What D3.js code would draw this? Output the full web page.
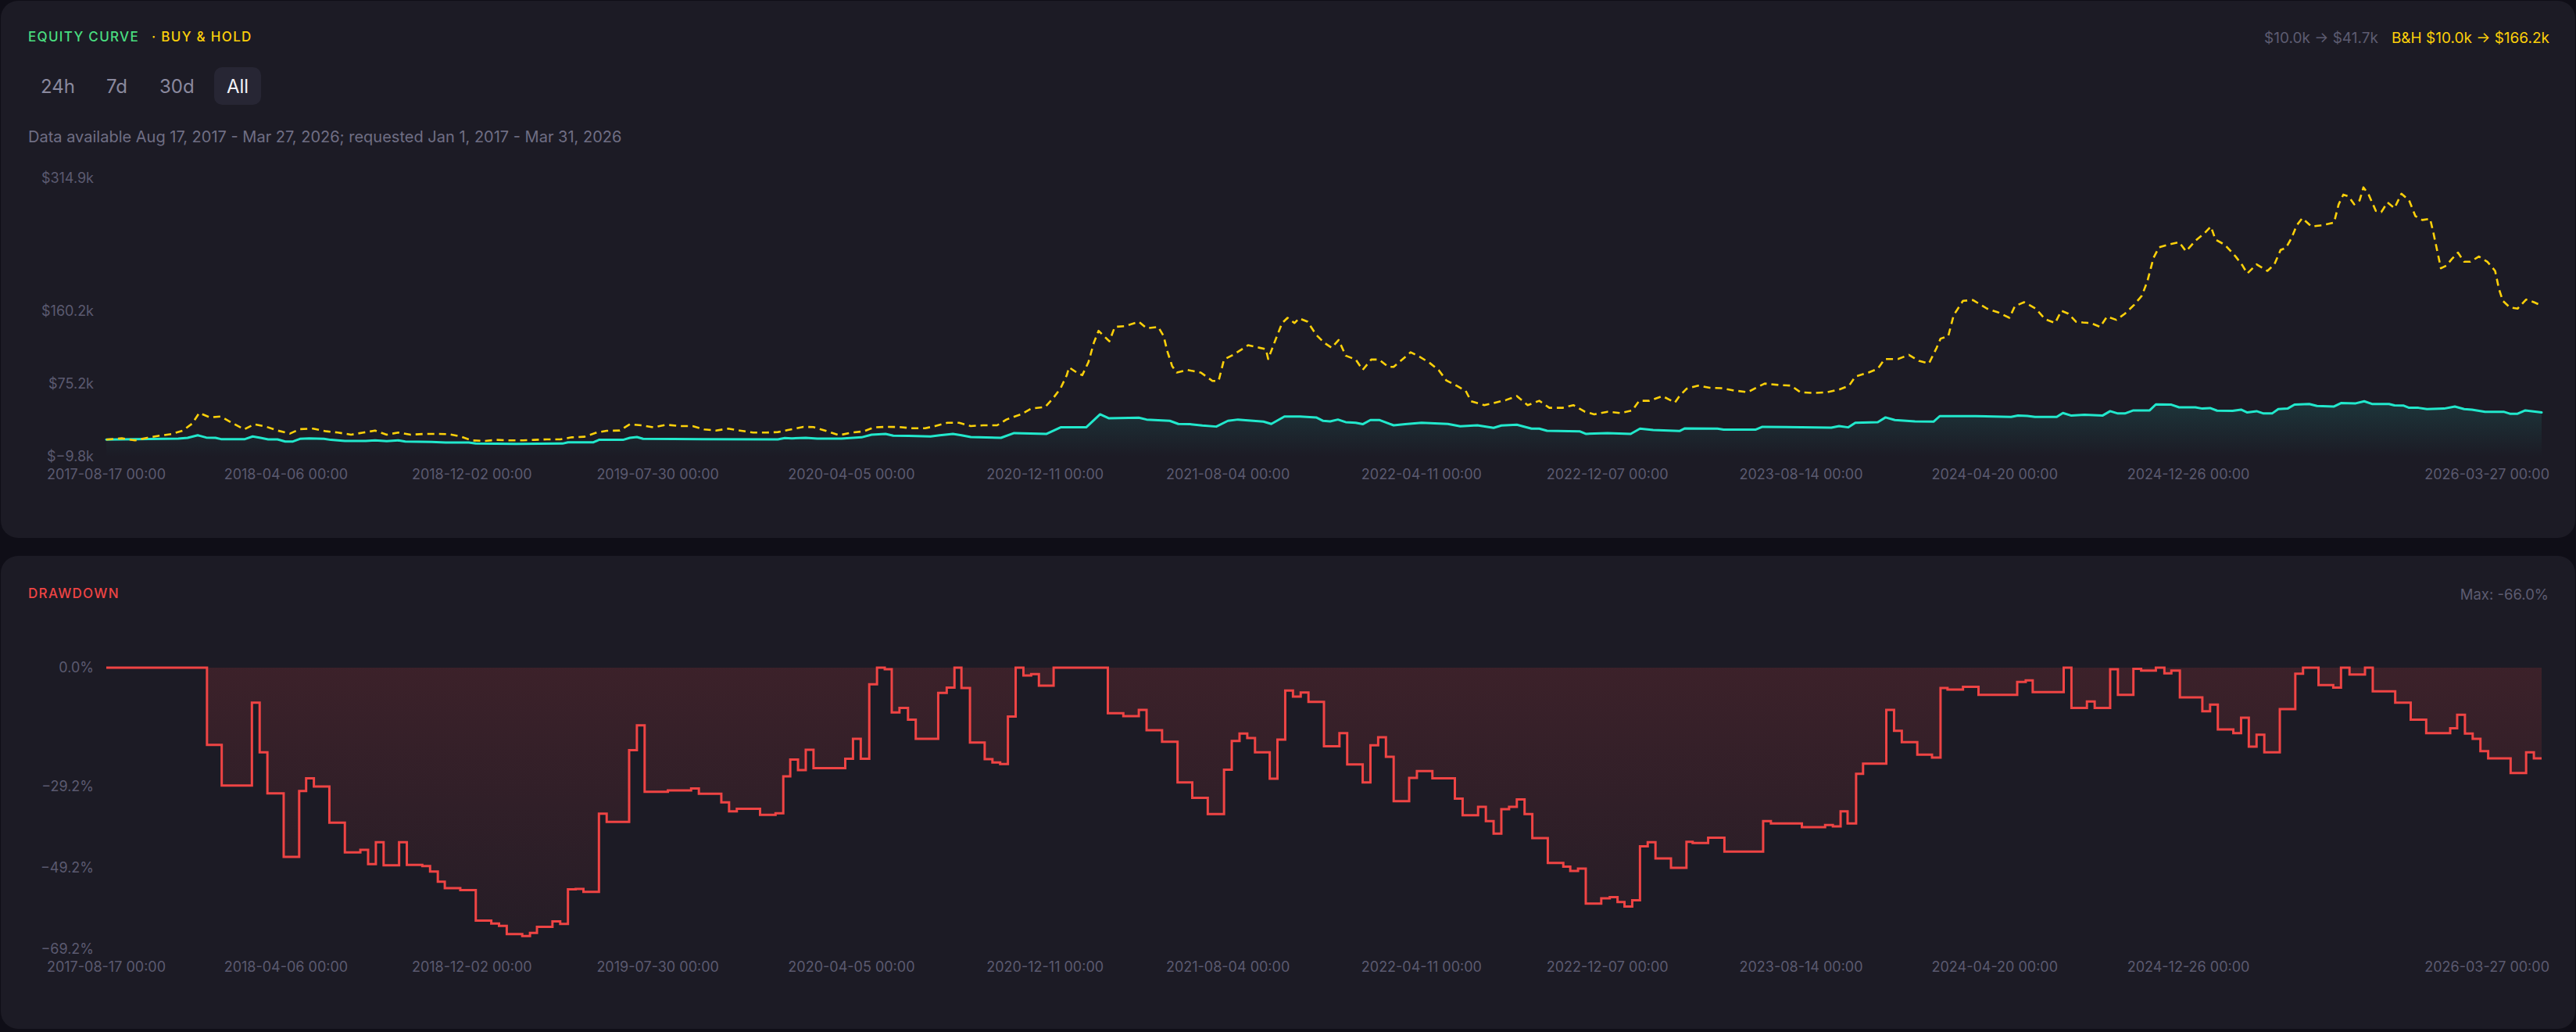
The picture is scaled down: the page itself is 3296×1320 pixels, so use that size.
<!DOCTYPE html>
<html><head><meta charset="utf-8">
<script src="https://cdn.jsdelivr.net/npm/d3@7"></script>
<style>
html,body{margin:0;padding:0;background:#0f0e17;}
svg{display:block;font-family:Inter,"Noto Sans",sans-serif;}
</style></head><body>
<svg id="chart" width="3296" height="1320"></svg>
<script>
// ---------------- DATA ----------------
const startDate = "2017-08-17";
const endDate = "2026-03-27";
const xTickLabels = ["2017-08-17 00:00","2018-04-06 00:00","2018-12-02 00:00","2019-07-30 00:00","2020-04-05 00:00","2020-12-11 00:00","2021-08-04 00:00","2022-04-11 00:00","2022-12-07 00:00","2023-08-14 00:00","2024-04-20 00:00","2024-12-26 00:00","2026-03-27 00:00"];
const equityTicks = [-9.8, 75.2, 160.2, 314.9];      // $k
const drawdownTicks = [0, -29.2, -49.2, -69.2];       // %
const ranges = ["24h","7d","30d","All"];
const activeRange = "All";
const availability = "Data available Aug 17, 2017 - Mar 27, 2026; requested Jan 1, 2017 - Mar 31, 2026";
const strategySummary = "$10.0k \u2192 $41.7k";
const holdSummary = "B&H $10.0k \u2192 $166.2k";
const maxDrawdownLabel = "Max: -66.0%";

// strategy equity ($k), days since start date
const eqDays = [0,93,105,118,129,141,148,179,189,199, 209,221,231,241,250,262,281,290,308,335,
  347,362,377,386,420,438,468,477,529,589, 596,629,636,667,676,685,693,770,867,876,
  885,903,918,949,975,988,1006,1016,1036,1064, 1076,1093,1104,1116,1155,1172,1214,1232,1265,1283,
  1294,1333,1343,1373,1384,1399,1415,1433,1448,1461, 1494,1504,1521,1541,1562,1571,1580,1590,1600,1613,
  1622,1632,1644,1662,1677,1698,1732,1748,1770,1791, 1801,1821,1840,1850,1860,1902,1910,1938,1968,1980,
  1997,2031,2038,2080,2088,2129,2138,2227,2237,2249, 2258,2287,2297,2309,2335,2359,2367,2413,2459,2468,
  2480,2490,2518,2526,2537,2554,2577,2587,2597,2606, 2617,2638,2646,2666,2676,2697,2706,2716,2725,2745,
  2756,2764,2776,2785,2796,2804,2816,2825,2844,2854, 2876,2885,2904,2915,2925,2947,2954,2966,2973,2985,
  2996,3018,3032,3044,3054,3071,3095,3103,3113,3123,3144];
const eqValues = [10.0,11.2,12.1,15.1,12.4,12.1,10.6,10.6,13.7,12.1, 10.3,10.3,7.8,7.8,10.9,11.5,10.9,9.7,8.5,8.5,
  9.1,8.2,9.1,7.8,7.3,6.6,6.6,5.4,5.1,5.4, 6.9,6.9,9.7,9.7,12.1,13.0,10.9,10.6,10.3,11.8,
  11.5,12.1,11.2,11.2,12.7,15.8,16.7,14.6,14.3,13.7, 15.1,16.7,15.1,13.0,12.1,17.6,16.7,24.3,24.3,39.5,
  35.0,35.6,33.4,31.9,28.3,28.0,26.4,25.2,31.9,33.4, 31.0,28.3,37.0,37.0,35.9,31.9,31.3,33.4,30.4,29.7,
  28.0,32.8,32.8,26.7,28.0,29.7,28.3,25.5,26.7,23.7, 26.4,27.4,22.8,22.8,20.3,19.7,16.7,17.6,16.7,22.8,
  21.3,20.0,23.1,22.8,21.6,21.6,24.9,24.0,25.8,24.3, 29.7,30.4,35.9,32.8,31.3,31.0,37.4,37.4,36.5,38.0,
  37.7,36.5,36.5,41.1,38.0,38.9,38.0,43.2,40.5,40.5, 44.1,44.1,51.1,50.8,47.7,47.7,46.2,46.8,43.8,43.5,
  45.0,41.7,43.2,40.5,40.5,45.6,46.2,50.8,51.6,49.3, 48.6,52.6,52.3,54.7,51.6,51.6,49.9,49.6,47.1,47.1,
  45.6,46.2,48.6,45.6,45.0,42.5,42.5,40.2,40.2,44.1,41.7];

// buy & hold ($k)
const bhDays = [0,20,37,53,69,84,99,111,120,134, 148,162,178,191,207,221,237,250,267,284,
  299,316,332,347,362,377,393,411,426,442, 457,472,489,504,521,538,553,569,586,601,
  617,633,646,663,676,691,706,723,740,757, 772,787,803,818,835,852,867,880,900,913,
  931,946,962,978,991,1007,1024,1039,1057,1070, 1086,1101,1116,1132,1150,1162,1181,1194,1212,1222,
  1232,1240,1243,1254,1260,1268,1275,1281,1288,1295, 1302,1315,1333,1343,1358,1365,1370,1376,1382,1396,
  1413,1428,1436,1443,1456,1474,1489,1497,1500,1510, 1518,1525,1534,1540,1551,1562,1572,1582,1591,1600,
  1613,1622,1633,1643,1655,1662,1675,1684,1696,1708, 1720,1730,1743,1755,1762,1779,1791,1807,1821,1835,
  1850,1863,1880,1894,1909,1921,1938,1955,1970,1979, 1992,2009,2025,2031,2040,2055,2070,2085,2100,2119,
  2131,2141,2160,2175,2187,2205,2222,2237,2250,2258, 2275,2287,2296,2313,2327,2340,2353,2363,2368,2378,
  2385,2397,2410,2428,2443,2457,2464,2476,2491,2503, 2516,2524,2533,2543,2552,2562,2574,2583,2595,2606,
  2618,2628,2635,2643,2650,2664,2676,2685,2697,2709, 2717,2723,2735,2749,2758,2764,2776,2790,2799,2807,
  2814,2821,2828,2835,2847,2862,2876,2882,2888,2895, 2902,2909,2914,2921,2930,2937,2945,2954,2963,2973,
  2981,2990,3000,3004,3009,3014,3021,3028,3036,3044, 3052,3063,3074,3084,3089,3094,3103,3113,3124,3134,3144];
const bhValues = [10.0,11.5,9.1,12.1,14.6,16.4,20.6,28.8,41.1,35.9, 37.0,29.7,21.9,27.9,24.9,20.6,17.0,22.2,22.8,19.7,
  18.2,15.8,18.2,20.6,15.8,18.2,15.8,16.7,16.7,16.4, 13.7,9.1,8.5,9.7,9.1,9.1,9.7,10.3,10.3,12.7,
  13.3,18.2,20.3,20.6,27.9,26.7,24.3,27.4,25.8,25.8, 21.9,20.6,22.8,20.6,18.2,18.2,18.8,21.2,24.9,24.6,
  19.7,15.1,18.2,19.7,24.3,24.9,24.6,23.3,23.3,25.8, 29.7,29.7,25.8,26.7,26.7,33.4,39.5,46.2,48.0,57.8,
  69.9,85.2,94.3,87.6,85.2,100.4,123.2,136.9,130.8,124.7, 141.5,142.4,147.5,139.9,141.5,130.8,112.5,95.8,88.2,91.3,
  88.2,78.5,78.5,103.4,109.5,120.1,117.1,115.5,104.0,127.7, 146.0,152.1,146.0,151.5,147.5,132.3,123.2,117.1,126.2,108.0,
  103.4,91.3,103.4,103.4,94.9,94.9,104.9,111.9,106.4,99.8, 91.3,79.0,73.0,66.9,54.7,50.2,52.6,56.2,60.8,50.2,
  55.3,47.1,47.1,50.2,42.5,39.5,42.5,41.0,44.0,55.3, 55.3,60.8,53.2,60.8,69.3,73.0,70.5,70.0,67.5,65.3,
  71.0,75.4,73.6,73.0,65.3,64.4,65.3,68.4,73.0,83.6, 88.2,92.7,104.0,104.0,108.9,101.9,98.8,117.1,127.8,130.8,
  155.2,171.9,172.8,162.8,158.2,152.1,165.8,170.3,162.8,150.6, 146.0,160.3,156.9,147.5,146.6,146.0,141.5,153.6,149.7,156.9,
  167.3,178.0,194.7,222.1,234.3,237.9,240.4,229.7,241.9,251.0, 258.6,243.4,237.3,223.6,212.9,203.8,214.5,206.8,214.5,231.2,
  233.8,244.9,260.2,268.4,258.6,260.2,263.2,284.5,295.8,293.6, 284.5,289.0,304.3,295.2,276.9,275.4,286.7,280.0,296.8,289.0,
  270.8,266.2,267.7,252.5,231.2,209.9,212.9,220.6,228.2,217.5, 217.5,223.6,217.5,206.8,185.5,171.8,164.3,162.8,173.4,170.3,166.2];

// drawdown (%), change points
const ddDays = [0,130,149,188,198,208,229,249,258,268, 288,308,328,338,348,358,378,388,408,418,
  428,437,457,477,497,507,517,537,547,556, 576,586,596,606,616,636,646,675,685,695,
  725,755,765,794,804,814,844,864,874,883, 893,903,913,954,964,974,985,995,1005,1014,
  1024,1035,1045,1074,1085,1095,1104,1115,1134,1144, 1154,1164,1174,1184,1194,1204,1223,1293,1313,1333,
  1343,1363,1383,1402,1422,1443,1453,1463,1473,1483, 1502,1512,1522,1532,1542,1552,1572,1592,1602,1622,
  1632,1642,1652,1662,1682,1692,1712,1741,1751,1771, 1781,1791,1801,1811,1821,1831,1841,1861,1881,1890,
  1900,1910,1930,1941,1951,1960,1970,1980,1990,2000, 2020,2040,2048,2068,2089,2139,2149,2189,2219,2229,
  2239,2248,2259,2268,2298,2308,2318,2338,2357,2368, 2377,2397,2417,2467,2478,2487,2527,2537,2557,2567,
  2587,2597,2617,2627,2646,2657,2666,2677,2706,2716, 2726,2746,2756,2766,2776,2786,2806,2826,2836,2856,
  2875,2885,2896,2916,2926,2955,2975,2995,3026,3035, 3045,3055,3065,3075,3104,3124,3134,3144];
const ddValues = [0,-19.0,-29.0,-8.6,-20.8,-30.9,-46.5,-30.3,-27.2,-29.2, -38.1,-45.4,-44.8,-48.3,-42.9,-48.6,-42.9,-48.5,-48.8,-50.1,
  -52.6,-54.2,-54.7,-62.2,-62.9,-63.5,-65.5,-66.0,-65.2,-63.7, -62.4,-63.0,-54.5,-54.4,-55.1,-35.9,-37.9,-20.3,-14.2,-30.5,
  -30.2,-29.7,-31.0,-33.1,-35.3,-34.7,-36.2,-35.8,-26.7,-22.6, -25.2,-20.2,-24.7,-22.4,-17.5,-22.4,-4.1,0,-0.4,-11.0,
  -9.9,-12.8,-17.5,-6.2,-4.9,0,-5.0,-18.4,-22.5,-23.3, -23.7,-12.0,0,-1.9,-1.6,-4.4,0,-11.2,-11.9,-10.4,
  -15.4,-18.2,-28.2,-32.0,-36.0,-25.1,-18.0,-16.2,-17.3,-20.8, -27.3,-17.7,-5.6,-7.1,-6.1,-8.4,-19.3,-16.1,-23.8,-28.2,
  -19.1,-17.1,-21.9,-32.8,-27.1,-25.4,-27.2,-32.2,-36.3,-34.2, -37.7,-40.8,-34.8,-34.2,-32.4,-36.0,-41.9,-48.0,-48.9,-50.0,
  -49.4,-58.0,-56.7,-56.4,-57.6,-58.7,-57.2,-43.9,-42.9,-46.9, -49.2,-42.8,-43.1,-41.8,-45.2,-37.7,-38.3,-39.2,-38.7,-39.0,
  -35.3,-38.3,-26.1,-23.6,-10.4,-15.5,-18.3,-21.4,-22.1,-5.0, -5.4,-4.7,-6.7,-3.5,-3.1,-6.0,0,-9.9,-8.3,-9.9,
  -0.4,-6.7,-0.3,-0.7,0,-1.4,-0.7,-7.3,-10.7,-9.1, -15.2,-16.1,-12.3,-19.4,-16.5,-20.8,-10.2,-1.5,0,-4.3,
  -4.9,0,-1.7,0,-5.8,-8.6,-12.8,-16.1,-14.9,-11.6, -16.2,-17.5,-20.5,-22.3,-25.9,-20.8,-22.3,-22.3];

// ---------------- STYLE ----------------
const C = {
  page:"#0f0e17", panel:"#1c1b25", teal:"#22e8cc", yellow:"#fcd00a", green:"#4ade80",
  red:"#ef4444", axis:"#5b5a70", muted:"#6f6e84", btn:"#8a899e", btnActive:"#f2f2f7", btnBg:"#272634"
};
const W = 3296, H = 1320;
const svg = d3.select("#chart");
const defs = svg.append("defs");

svg.append("rect").attr("width", W).attr("height", H).attr("fill", C.page);
svg.append("rect").attr("x", 1).attr("y", 1).attr("width", W - 2).attr("height", 687).attr("rx", 22).attr("fill", C.panel);
svg.append("rect").attr("x", 1).attr("y", 711).attr("width", W - 2).attr("height", 605).attr("rx", 22).attr("fill", C.panel);

// ---------------- SCALES ----------------
const parse = d3.utcParse("%Y-%m-%d");
const t0 = parse(startDate), t1 = parse(endDate);
const x = d3.scaleUtc().domain([t0, t1]).range([136, 3252]);
const dayDate = d => d3.utcDay.offset(t0, d);
const yEq = d3.scaleLinear().domain([equityTicks[0], equityTicks[equityTicks.length - 1]]).range([584, 228]);
const yDd = d3.scaleLinear().domain([drawdownTicks[drawdownTicks.length - 1], 0]).range([1214, 854]);

const eqData = eqDays.map((d, i) => ({t: dayDate(d), v: eqValues[i]}));
const bhData = bhDays.map((d, i) => ({t: dayDate(d), v: bhValues[i]}));
const ddData = ddDays.map((d, i) => ({t: dayDate(d), v: ddValues[i]}));

// ---------------- HEADER (equity panel) ----------------
function txt(g, str, xx, yy, size, fill, opts = {}) {
  const t = g.append("text").attr("x", xx).attr("y", yy).attr("dy", "0.36em")
    .attr("font-size", size).attr("fill", fill).text(str);
  if (opts.anchor) t.attr("text-anchor", opts.anchor);
  if (opts.weight) t.attr("font-weight", opts.weight);
  if (opts.ls) t.attr("letter-spacing", opts.ls);
  return t;
}
txt(svg, "EQUITY CURVE", 36, 47, 17, C.green, {weight: 500, ls: 1.3});
txt(svg, "\u00b7 BUY & HOLD", 194, 47, 17, C.yellow, {weight: 500, ls: 1.3});

const hold = txt(svg, holdSummary, 3262, 48, 19, C.yellow, {anchor: "end"});
const hb = hold.node().getBBox();
txt(svg, strategySummary, hb.x - 17, 48, 19, "#5d5c71", {anchor: "end"});

// range buttons
const btnX = [52, 136, 204, 290];
ranges.forEach((r, i) => {
  if (r === activeRange) {
    svg.append("rect").attr("x", btnX[i] - 16).attr("y", 86).attr("width", 60).attr("height", 48)
      .attr("rx", 10).attr("fill", C.btnBg);
  }
  txt(svg, r, btnX[i], 110, 24, r === activeRange ? C.btnActive : C.btn);
});
txt(svg, availability, 36, 175, 20, C.muted);

// ---------------- EQUITY CHART ----------------
const tealGrad = defs.append("linearGradient").attr("id", "tealGrad")
  .attr("gradientUnits", "userSpaceOnUse").attr("x1", 0).attr("x2", 0)
  .attr("y1", yEq(d3.max(eqValues))).attr("y2", yEq(equityTicks[0]));
tealGrad.append("stop").attr("offset", 0).attr("stop-color", C.teal).attr("stop-opacity", 0.13);
tealGrad.append("stop").attr("offset", 1).attr("stop-color", C.teal).attr("stop-opacity", 0.0);

svg.append("path").datum(eqData)
  .attr("d", d3.area().x(d => x(d.t)).y0(yEq(equityTicks[0])).y1(d => yEq(d.v)))
  .attr("fill", "url(#tealGrad)");
svg.append("path").datum(eqData)
  .attr("d", d3.line().x(d => x(d.t)).y(d => yEq(d.v)))
  .attr("fill", "none").attr("stroke", C.teal).attr("stroke-width", 3)
  .attr("stroke-linejoin", "round").attr("stroke-linecap", "round");
svg.append("path").datum(bhData)
  .attr("d", d3.line().x(d => x(d.t)).y(d => yEq(d.v)))
  .attr("fill", "none").attr("stroke", C.yellow).attr("stroke-width", 2.6)
  .attr("stroke-dasharray", "9 6").attr("stroke-linejoin", "round");

const fmtK = v => "$" + d3.format(".1f")(v) + "k";
equityTicks.forEach(v => txt(svg, fmtK(v), 120, yEq(v), 18, C.axis, {anchor: "end"}));

function xAxisLabels(yy) {
  xTickLabels.forEach(lbl => {
    const t = txt(svg, lbl, x(parse(lbl.slice(0, 10))), yy, 18, C.axis, {anchor: "middle"});
    const b = t.node().getBBox();
    if (b.x + b.width > 3262) t.attr("text-anchor", "end").attr("x", 3262);
  });
}
xAxisLabels(607);

// ---------------- DRAWDOWN ----------------
txt(svg, "DRAWDOWN", 36, 759, 17, C.red, {weight: 500, ls: 1.3});
txt(svg, maxDrawdownLabel, 3261, 760, 18.5, "#5d5c71", {anchor: "end"});

const redGrad = defs.append("linearGradient").attr("id", "redGrad")
  .attr("gradientUnits", "userSpaceOnUse").attr("x1", 0).attr("x2", 0)
  .attr("y1", yDd(0)).attr("y2", yDd(drawdownTicks[drawdownTicks.length - 1]));
redGrad.append("stop").attr("offset", 0).attr("stop-color", C.red).attr("stop-opacity", 0.15);
redGrad.append("stop").attr("offset", 1).attr("stop-color", C.red).attr("stop-opacity", 0.04);

svg.append("path").datum(ddData)
  .attr("d", d3.area().curve(d3.curveStepAfter).x(d => x(d.t)).y0(yDd(0)).y1(d => yDd(d.v)))
  .attr("fill", "url(#redGrad)");
svg.append("path").datum(ddData)
  .attr("d", d3.line().curve(d3.curveStepAfter).x(d => x(d.t)).y(d => yDd(d.v)))
  .attr("fill", "none").attr("stroke", C.red).attr("stroke-width", 3);

drawdownTicks.forEach(v => txt(svg, d3.format(".1f")(v) + "%", 120, yDd(v), 18, C.axis, {anchor: "end"}));
xAxisLabels(1237);
</script>
</body></html>
